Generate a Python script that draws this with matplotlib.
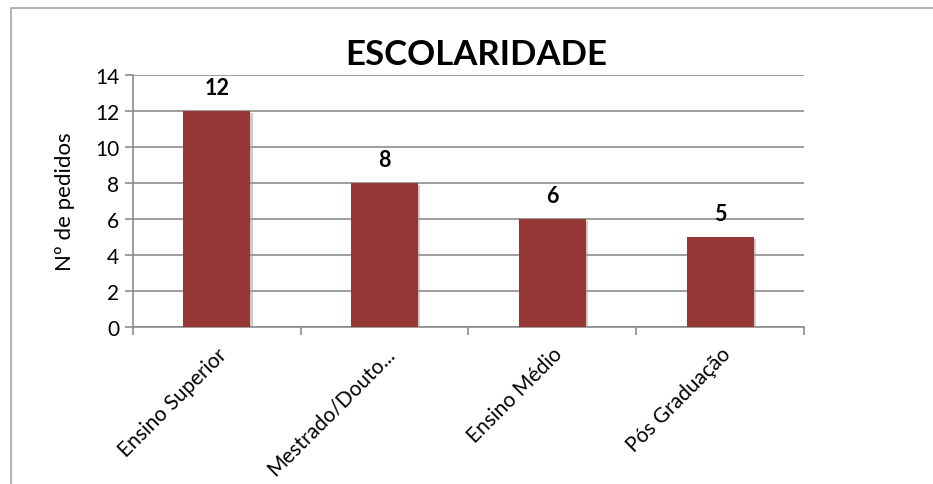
import matplotlib
matplotlib.use("Agg")
import matplotlib.pyplot as plt
import matplotlib.patheffects as pe
from matplotlib.patches import Rectangle

categories = ["Ensino Superior", "Mestrado/Douto...", "Ensino Médio", "Pós Graduação"]
values = [12, 8, 6, 5]
yticks = [0, 2, 4, 6, 8, 10, 12, 14]

BAR = "#953735"
GRID = "#8c8c8c"
FONT = "Lato"

fig = plt.figure(figsize=(9.33, 4.85), dpi=100)
ax = fig.add_axes([133 / 933, 1 - 328 / 485, 671 / 933, 252 / 485])

# outer chart frame, Excel style
fig.add_artist(Rectangle((11 / 933, -0.05), 1.2, 1 - 9 / 485 + 0.05,
                         transform=fig.transFigure, fill=False,
                         edgecolor="#a6a6a6", linewidth=1.2))

x = range(len(categories))
bars = ax.bar(x, values, width=0.4, color=BAR, zorder=3)
for b in bars:
    b.set_path_effects([pe.SimplePatchShadow(offset=(1.5, -1.5), shadow_rgbFace="#9a9a9a", alpha=0.5),
                        pe.Normal()])

for i, v in enumerate(values):
    ax.text(i, v + 0.7, str(v), ha="center", va="bottom", fontsize=15.5,
            fontweight="bold", family=FONT)

ax.set_xlim(-0.5, len(categories) - 0.5)
ax.set_ylim(0, 14)
ax.set_yticks(yticks)
ax.set_yticklabels([str(t) for t in yticks], fontsize=15, family=FONT)
ax.yaxis.grid(True, color=GRID, linewidth=1.2, zorder=0)
ax.set_axisbelow(True)

ax.set_xticks(list(x))
ax.set_xticklabels(categories, rotation=45, ha="right", rotation_mode="anchor",
                   fontsize=15, family=FONT)
ax.tick_params(axis="x", which="major", length=0, pad=12)
ax.set_xticks([i - 0.5 for i in range(len(categories) + 1)], minor=True)
ax.tick_params(axis="x", which="minor", length=6, color=GRID, width=1.2)
ax.tick_params(axis="y", length=6, color=GRID, width=1.2, pad=4)

for side in ["top", "right"]:
    ax.spines[side].set_visible(False)
for side in ["left", "bottom"]:
    ax.spines[side].set_color(GRID)
    ax.spines[side].set_linewidth(1.2)

ax.set_ylabel("Nº de pedidos", fontsize=16, family=FONT, labelpad=14)
fig.text(476 / 933, 1 - 55 / 485, "ESCOLARIDADE", ha="center", va="center",
         fontsize=25, fontweight="bold", family=FONT)

fig.savefig("out.png", dpi=100)
